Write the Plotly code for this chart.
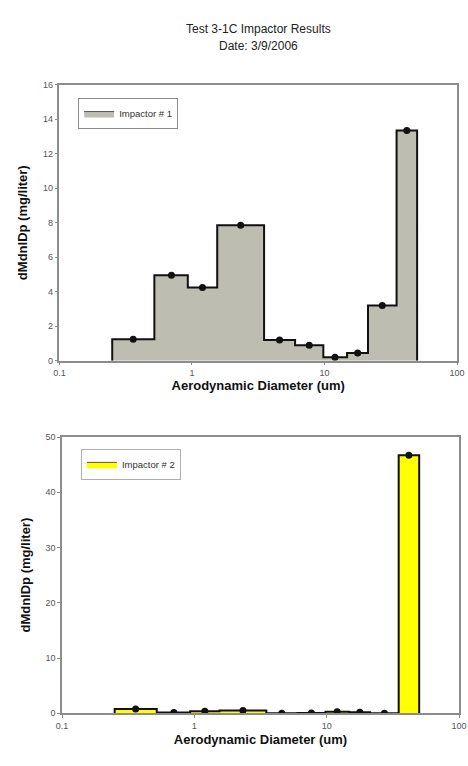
import plotly.graph_objects as go

# Impactor stage boundaries (um) and stage midpoint diameters (um)
stage_edges = [0.25, 0.52, 0.93, 1.55, 3.5, 6.0, 9.8, 14.8, 21.3, 35.0, 50.0]
stage_mid = [0.36, 0.70, 1.20, 2.33, 4.58, 7.67, 12.0, 17.8, 27.3, 41.8]

# dM/dlnDp (mg/liter) per stage
impactor1 = [1.25, 4.95, 4.25, 7.85, 1.2, 0.9, 0.2, 0.45, 3.2, 13.35]
impactor2 = [0.8, 0.15, 0.35, 0.5, 0.02, 0.05, 0.3, 0.2, 0.02, 46.7]

x_ticks = [0.1, 1, 10, 100]
x_tick_text = ["0.1", "1", "10", "100"]

FONT = "Liberation Sans, Arial, sans-serif"


def step_outline(edges, vals):
    xs = [edges[0], edges[0]] + edges[1:-1] + [edges[-1], edges[-1]]
    ys = [0] + list(vals) + [vals[-1], 0]
    return xs, ys


fig = go.Figure()

for i, (vals, fill, name, leg) in enumerate([
    (impactor1, "#bdbdb1", "Impactor # 1", "legend"),
    (impactor2, "#ffff00", "Impactor # 2", "legend2"),
]):
    xa = "x" if i == 0 else "x2"
    ya = "y" if i == 0 else "y2"
    xs, ys = step_outline(stage_edges, vals)
    # stepped histogram outline with filled area
    fig.add_trace(go.Scatter(
        x=xs, y=ys, mode="lines", line=dict(shape="hv", color="#111111", width=2),
        fill="tozeroy", fillcolor=fill, showlegend=False,
        xaxis=xa, yaxis=ya, hoverinfo="skip",
    ))
    # stage midpoint markers
    fig.add_trace(go.Scatter(
        x=stage_mid, y=vals, mode="markers",
        marker=dict(color="#111111", size=7, symbol="circle"),
        showlegend=False, xaxis=xa, yaxis=ya,
    ))
    # legend swatch
    fig.add_trace(go.Scatter(
        x=[None], y=[None], mode="lines", line=dict(color="#555555", width=1),
        fill="toself", fillcolor=fill, name=name, legend=leg,
        xaxis=xa, yaxis=ya,
    ))

axis_common = dict(
    showgrid=False, zeroline=False, showline=True, linecolor="#8c8c8c",
    linewidth=1.5, mirror=True, ticks="outside", ticklen=3, tickcolor="#8c8c8c",
    tickfont=dict(family=FONT, size=9, color="#555555"), automargin=False,
)
ytitle = dict(text="<b>dMdnlDp (mg/liter)</b>",
              font=dict(family=FONT, size=13, color="#111111"), standoff=12)


def xtitle(standoff):
    return dict(text="<b>Aerodynamic Diameter (um)</b>",
                font=dict(family=FONT, size=13, color="#111111"), standoff=standoff)


fig.update_layout(
    width=468, height=766,
    margin=dict(l=0, r=0, t=0, b=0, autoexpand=False),
    paper_bgcolor="white", plot_bgcolor="white",
    xaxis=dict(type="log", range=[-1, 2], domain=[0.1271, 0.9765], anchor="y",
               tickmode="array", tickvals=x_ticks, ticktext=x_tick_text,
               title=xtitle(2), **axis_common),
    yaxis=dict(range=[0, 16], domain=[0.5291, 0.8894], anchor="x",
               dtick=2, title=ytitle, **axis_common),
    xaxis2=dict(type="log", range=[-1, 2], domain=[0.1325, 0.9808], anchor="y2",
                tickmode="array", tickvals=x_ticks, ticktext=x_tick_text,
                title=xtitle(5), **axis_common),
    yaxis2=dict(range=[0, 50], domain=[0.0688, 0.4295], anchor="x2",
                dtick=10, title=ytitle, **axis_common),
    legend=dict(x=0.167, y=0.872, xanchor="left", yanchor="top",
                bordercolor="#8c8c8c", borderwidth=1, bgcolor="white",
                font=dict(family=FONT, size=9.5, color="#333333")),
    legend2=dict(x=0.173, y=0.414, xanchor="left", yanchor="top",
                 bordercolor="#b0b0b0", borderwidth=1, bgcolor="white",
                 font=dict(family=FONT, size=9.5, color="#333333")),
    annotations=[
        dict(text="Test 3-1C Impactor Results", x=258 / 468, y=1 - 20 / 766,
             xref="paper", yref="paper", showarrow=False,
             font=dict(family=FONT, size=12, color="#222222")),
        dict(text="Date: 3/9/2006", x=258 / 468, y=1 - 36.5 / 766,
             xref="paper", yref="paper", showarrow=False,
             font=dict(family=FONT, size=12, color="#222222")),
    ],
    showlegend=True,
)

fig.write_html("out.html")
